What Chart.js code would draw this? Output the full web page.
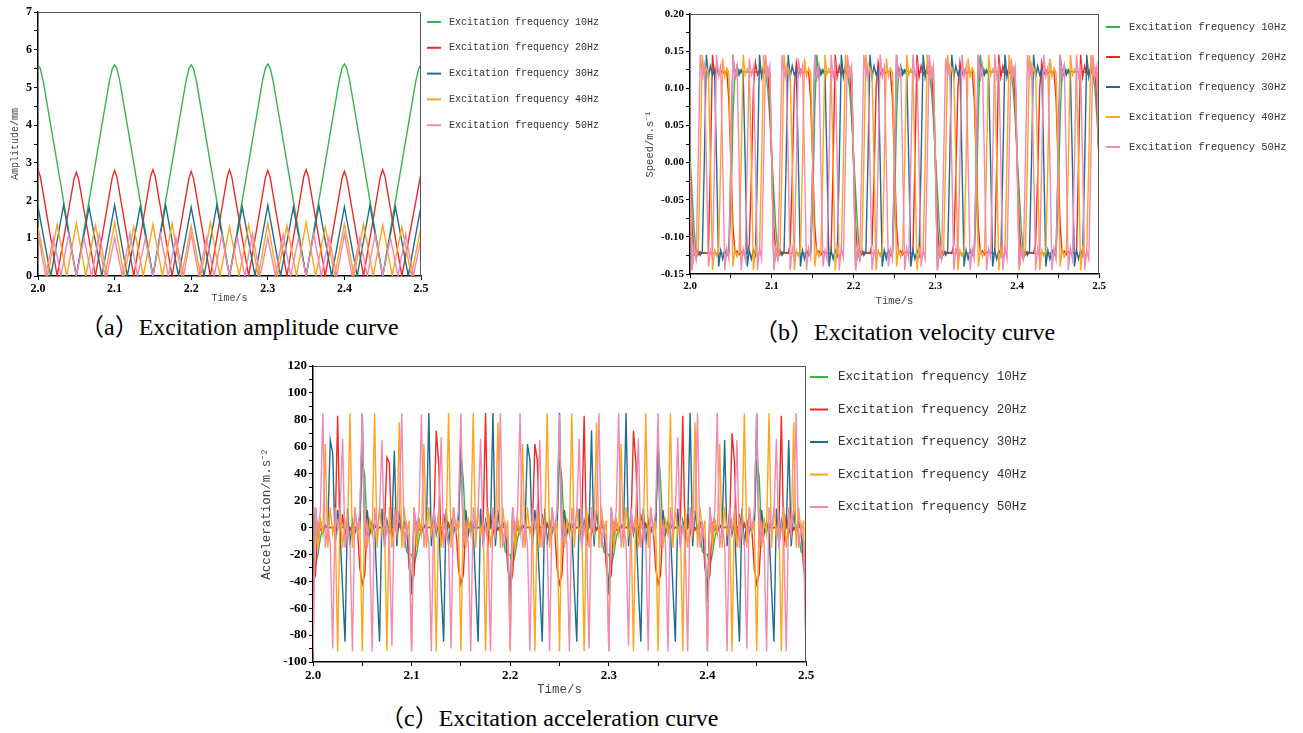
<!DOCTYPE html>
<html>
<head>
<meta charset="utf-8">
<script src="https://cdn.jsdelivr.net/npm/chart.js@4.4.0/dist/chart.umd.min.js"></script>
<style>
body { margin: 0; background: #fff; width: 1303px; height: 733px; overflow: hidden; position: relative; }
canvas { position: absolute; }
.cap { position: absolute; font-family: "Liberation Serif", "Noto Sans CJK SC", serif; font-size: 24px; line-height: 28px; color: #000; white-space: nowrap; }
</style>
</head>
<body>
<canvas id="chartAmp" width="640" height="310" style="left:0px;top:0px"></canvas>
<canvas id="chartVel" width="673" height="315" style="left:630px;top:0px"></canvas>
<canvas id="chartAcc" width="800" height="345" style="left:250px;top:355px"></canvas>
<div class="cap" style="left:80px;top:313px">（a）Excitation amplitude curve</div>
<div class="cap" style="left:754px;top:318px">（b）Excitation velocity curve</div>
<div class="cap" style="left:380px;top:704px">（c）Excitation acceleration curve</div>
<script>
const seriesNames = ['Excitation frequency 10Hz', 'Excitation frequency 20Hz', 'Excitation frequency 30Hz', 'Excitation frequency 40Hz', 'Excitation frequency 50Hz'];
const seriesColors = ['#38b54a', '#ee2a24', '#1f6b94', '#ffa41c', '#f189b3'];

// (a) amplitude, mm  -- [time, value] at peaks / zeros
const ampGreen = [
    [2.000, 5.60], [2.003, 5.50], [2.007, 5.15], [2.050, 0],
    [2.093, 5.15], [2.097, 5.50], [2.100, 5.60], [2.103, 5.50], [2.107, 5.15], [2.150, 0],
    [2.193, 5.15], [2.197, 5.50], [2.200, 5.60], [2.203, 5.50], [2.207, 5.15], [2.250, 0],
    [2.293, 5.17], [2.297, 5.52], [2.300, 5.62], [2.303, 5.52], [2.307, 5.17], [2.350, 0],
    [2.393, 5.17], [2.397, 5.52], [2.400, 5.62], [2.403, 5.52], [2.407, 5.17], [2.450, 0],
    [2.493, 5.15], [2.497, 5.50], [2.500, 5.60]
];
const ampRed = [
    [2.000, 2.82], [2.003, 2.64], [2.025, 0], [2.047, 2.57], [2.050, 2.75], [2.053, 2.57], [2.075, 0],
    [2.097, 2.62], [2.100, 2.80], [2.103, 2.62], [2.125, 0], [2.147, 2.64], [2.150, 2.82], [2.153, 2.64], [2.175, 0],
    [2.197, 2.59], [2.200, 2.77], [2.203, 2.59], [2.225, 0], [2.247, 2.63], [2.250, 2.81], [2.253, 2.63], [2.275, 0],
    [2.297, 2.62], [2.300, 2.80], [2.303, 2.62], [2.325, 0], [2.347, 2.64], [2.350, 2.82], [2.353, 2.64], [2.375, 0],
    [2.397, 2.60], [2.400, 2.78], [2.403, 2.60], [2.425, 0], [2.447, 2.64], [2.450, 2.82], [2.453, 2.64], [2.475, 0],
    [2.500, 2.72]
];
// peak, zero, peak ... every half period
const ampBlueStep = 1 / 60;
const ampBlue = [1.83, 0, 1.88, 0, 1.82, 0, 1.88, 0, 1.83, 0, 1.88, 0, 1.82, 0, 1.87, 0,
    1.83, 0, 1.88, 0, 1.82, 0, 1.87, 0, 1.83, 0, 1.88, 0, 1.83, 0, 1.85];
const ampOrangeStep = 0.0125;
const ampOrange = [1.30, 0, 1.37, 0, 1.40, 0, 1.35, 0, 1.42, 0, 1.30, 0, 1.37, 0, 1.40, 0, 1.33, 0, 1.42, 0,
    1.30, 0, 1.36, 0, 1.40, 0, 1.33, 0, 1.42, 0, 1.30, 0, 1.38, 0, 1.38, 0, 1.35, 0, 1.30, 0, 1.31];
const ampPinkStep = 0.01;
const ampPink = [1.14, 0, 1.02, 0, 1.10, 0, 1.00, 0, 1.12, 0, 1.02, 0, 1.12, 0, 1.00, 0, 1.10, 0, 1.02, 0,
    1.12, 0, 1.00, 0, 1.10, 0, 1.03, 0, 1.12, 0, 1.02, 0, 1.10, 0, 1.00, 0, 1.12, 0, 1.02, 0,
    1.12, 0, 1.00, 0, 1.10, 0, 1.02, 0, 1.12, 0, 1.00];

// (b) velocity, m/s  -- samples every 0.0025 s from 2.0 to 2.5
const sampleStep = 0.0025;
const velGreen = [
    .01,-.04,-.09,-.12,-.122,-.122,-.122,-.122,-.122,-.122,-.122,-.122,-.122,-.122,-.122,-.122,-.122,-.122,-.122,-.122,
    -.06,.06,.125,.116,.125,.12,.123,.122,.122,.122,.122,.122,.122,.122,.122,.122,.122,.12,.1,.06,
    .01,-.04,-.09,-.12,-.122,-.122,-.122,-.122,-.122,-.122,-.122,-.122,-.122,-.122,-.122,-.122,-.122,-.122,-.122,-.122,
    -.06,.07,.145,.115,.125,.12,.123,.122,.122,.122,.122,.122,.122,.122,.122,.122,.122,.12,.1,.06,
    .01,-.04,-.09,-.12,-.122,-.122,-.122,-.122,-.122,-.122,-.122,-.122,-.122,-.122,-.122,-.122,-.122,-.122,-.122,-.122,
    -.06,.06,.125,.116,.125,.12,.123,.122,.122,.122,.122,.122,.122,.122,.122,.122,.122,.12,.1,.06,
    .01,-.04,-.09,-.12,-.122,-.122,-.122,-.122,-.122,-.122,-.122,-.122,-.122,-.122,-.122,-.122,-.122,-.122,-.122,-.122,
    -.06,.07,.145,.115,.125,.12,.123,.122,.122,.122,.122,.122,.122,.122,.122,.122,.122,.12,.1,.06,
    .01,-.04,-.09,-.12,-.122,-.122,-.122,-.122,-.122,-.122,-.122,-.122,-.122,-.122,-.122,-.122,-.122,-.122,-.122,-.122,
    -.06,.06,.125,.116,.125,.12,.123,.122,.122,.122,.122,.122,.122,.122,.122,.122,.122,.12,.1,.06,
    .01
];
const velRed = [
    0,-.085,-.122,-.119,-.124,-.12,-.122,-.121,-.122,-.122,0,.145,.115,.13,.118,.124,.12,.122,.122,.085,
    0,-.085,-.122,-.119,-.124,-.12,-.122,-.121,-.122,-.11,-.02,.1,.135,.118,.125,.12,.122,.122,.122,.085,
    0,-.085,-.122,-.119,-.124,-.12,-.122,-.121,-.122,-.11,-.02,.1,.135,.118,.125,.12,.122,.122,.122,.085,
    0,-.085,-.122,-.119,-.124,-.12,-.122,-.121,-.122,-.122,0,.145,.115,.13,.118,.124,.12,.122,.122,.085,
    0,-.085,-.122,-.119,-.124,-.12,-.122,-.121,-.122,-.11,-.02,.1,.135,.118,.125,.12,.122,.122,.122,.085,
    0,-.085,-.122,-.119,-.124,-.12,-.122,-.121,-.122,-.122,0,.145,.115,.13,.118,.124,.12,.122,.122,.085,
    0,-.085,-.122,-.119,-.124,-.12,-.122,-.121,-.122,-.11,-.02,.1,.135,.118,.125,.12,.122,.122,.122,.085,
    0,-.085,-.122,-.119,-.124,-.12,-.122,-.121,-.122,-.122,0,.145,.115,.13,.118,.124,.12,.122,.122,.085,
    0,-.085,-.122,-.119,-.124,-.12,-.122,-.121,-.122,-.11,-.02,.1,.135,.118,.125,.12,.122,.122,.122,.085,
    0,-.085,-.122,-.119,-.124,-.12,-.122,-.121,-.122,-.122,0,.145,.115,.13,.118,.124,.12,.122,.122,.085,
    0
];
const velBlue = [
    0,-.14,-.118,-.13,-.118,-.125,-.12,0,.145,.115,.13,.118,.125,0,-.14,-.118,-.13,-.118,-.125,-.12,
    0,.145,.115,.13,.118,.125,.12,0,-.14,-.118,-.13,-.118,-.125,0,.145,.115,.13,.118,.125,.12,
    0,-.14,-.118,-.13,-.118,-.125,-.12,0,.145,.115,.13,.118,.125,0,-.14,-.118,-.13,-.118,-.125,-.12,
    0,.145,.115,.13,.118,.125,.12,0,-.14,-.118,-.13,-.118,-.125,0,.145,.115,.13,.118,.125,.12,
    0,-.14,-.118,-.13,-.118,-.125,-.12,0,.145,.115,.13,.118,.125,0,-.14,-.118,-.13,-.118,-.125,-.12,
    0,.145,.115,.13,.118,.125,.12,0,-.14,-.118,-.13,-.118,-.125,0,.145,.115,.13,.118,.125,.12,
    0,-.14,-.118,-.13,-.118,-.125,-.12,0,.145,.115,.13,.118,.125,0,-.14,-.118,-.13,-.118,-.125,-.12,
    0,.145,.115,.13,.118,.125,.12,0,-.14,-.118,-.13,-.118,-.125,0,.145,.115,.13,.118,.125,.12,
    0,-.14,-.118,-.13,-.118,-.125,-.12,0,.145,.115,.13,.118,.125,0,-.14,-.118,-.13,-.118,-.125,-.12,
    0,.145,.115,.13,.118,.125,.12,0,-.14,-.118,-.13,-.118,-.125,0,.145,.115,.13,.118,.125,.12,
    0
];
const velOrange = [
    0,-.145,-.115,-.128,-.12,0,.145,.115,.128,.12,0,-.145,-.118,-.126,-.121,0,.14,.116,.127,.121,
    0,-.14,-.116,-.127,-.121,0,.145,.118,.126,.12,0,-.145,-.115,-.128,-.12,0,.145,.115,.128,.12,
    0,-.145,-.115,-.128,-.12,0,.145,.115,.128,.12,0,-.145,-.118,-.126,-.121,0,.14,.116,.127,.121,
    0,-.14,-.116,-.127,-.121,0,.145,.118,.126,.12,0,-.145,-.115,-.128,-.12,0,.145,.115,.128,.12,
    0,-.145,-.115,-.128,-.12,0,.145,.115,.128,.12,0,-.145,-.118,-.126,-.121,0,.14,.116,.127,.121,
    0,-.14,-.116,-.127,-.121,0,.145,.118,.126,.12,0,-.145,-.115,-.128,-.12,0,.145,.115,.128,.12,
    0,-.145,-.115,-.128,-.12,0,.145,.115,.128,.12,0,-.145,-.118,-.126,-.121,0,.14,.116,.127,.121,
    0,-.14,-.116,-.127,-.121,0,.145,.118,.126,.12,0,-.145,-.115,-.128,-.12,0,.145,.115,.128,.12,
    0,-.145,-.115,-.128,-.12,0,.145,.115,.128,.12,0,-.145,-.118,-.126,-.121,0,.14,.116,.127,.121,
    0,-.14,-.116,-.127,-.121,0,.145,.118,.126,.12,0,-.145,-.115,-.128,-.12,0,.145,.115,.128,.12,
    0
];
const velPink = [
    0,-.145,-.115,-.13,0,.145,.115,.13,0,-.14,-.118,-.128,0,.145,.116,.13,0,-.145,-.115,-.13,
    0,.145,.115,.13,0,-.145,-.116,-.13,0,.14,.118,.128,0,-.145,-.115,-.13,0,.145,.115,.13,
    0,-.145,-.116,-.13,0,.145,.115,.128,0,-.145,-.115,-.13,0,.14,.118,.13,0,-.145,-.115,-.128,
    0,.145,.116,.13,0,-.14,-.118,-.13,0,.145,.115,.13,0,-.145,-.115,-.128,0,.145,.115,.13,
    0,-.145,-.115,-.13,0,.145,.116,.13,0,-.145,-.118,-.13,0,.145,.115,.128,0,-.14,-.116,-.13,
    0,.145,.115,.128,0,-.145,-.115,-.13,0,.145,.116,.13,0,-.14,-.118,-.13,0,.145,.115,.13,
    0,-.145,-.115,-.13,0,.14,.118,.13,0,-.145,-.115,-.128,0,.145,.115,.13,0,-.145,-.116,-.13,
    0,.145,.115,.13,0,-.145,-.116,-.128,0,.145,.115,.13,0,-.145,-.115,-.13,0,.14,.118,.13,
    0,-.14,-.118,-.13,0,.145,.115,.13,0,-.145,-.115,-.13,0,.145,.116,.128,0,-.145,-.115,-.13,
    0,.145,.116,.13,0,-.145,-.115,-.13,0,.145,.115,.128,0,-.145,-.118,-.13,0,.145,.115,.13,
    0
];

// (c) acceleration, m/s^2  -- same sampling
const accGreen = [
    -20,-28,-20,-8,0,0,0,0,0,0,0,0,0,0,0,0,0,0,0,0,
    50,38,-5,5,-4,3,-2,0,0,0,0,0,0,0,0,0,0,-5,-18,-20,
    -20,-28,-20,-8,0,0,0,0,0,0,0,0,0,0,0,0,0,0,0,0,
    55,35,-5,5,-4,3,-2,0,0,0,0,0,0,0,0,0,0,-5,-18,-20,
    -20,-28,-20,-8,0,0,0,0,0,0,0,0,0,0,0,0,0,0,0,0,
    50,35,-5,5,-4,3,-2,0,0,0,0,0,0,0,0,0,0,-5,-18,-20,
    -20,-28,-20,-8,0,0,0,0,0,0,0,0,0,0,0,0,0,0,0,0,
    62,35,-5,5,-4,3,-2,0,0,0,0,0,0,0,0,0,0,-5,-18,-20,
    -20,-28,-20,-8,0,0,0,0,0,0,0,0,0,0,0,0,0,0,0,0,
    50,38,-5,5,-4,3,-2,0,0,0,0,0,0,0,0,0,0,-5,-18,-20,
    -20
];
const accRed = [
    -42,-35,3,-2,0,0,0,0,0,0,83,-14,10,-5,3,-2,1,0,0,-30,
    -42,-35,3,-2,0,0,0,0,0,0,52,48,-14,10,-5,3,-2,0,0,-30,
    -42,-35,3,-2,0,0,0,0,0,0,72,47,-14,10,-5,3,-2,0,0,-30,
    -42,-35,3,-2,0,0,0,0,0,0,85,-14,10,-5,3,-2,1,0,0,-30,
    -42,-35,3,-2,0,0,0,0,0,0,62,50,-14,10,-5,3,-2,0,0,-30,
    -42,-35,3,-2,0,0,0,0,0,0,83,-14,10,-5,3,-2,1,0,0,-30,
    -42,-35,3,-2,0,0,0,0,0,0,72,48,-14,10,-5,3,-2,0,0,-30,
    -42,-35,3,-2,0,0,0,0,0,0,83,-14,10,-5,3,-2,1,0,0,-30,
    -42,-35,3,-2,0,0,0,0,0,0,70,48,-14,10,-5,3,-2,0,0,-30,
    -42,-35,3,-2,0,0,0,0,0,0,83,-14,10,-5,3,-2,1,0,0,-30,
    -42
];
const accBlue = [
    -50,14,-13,5,-4,2,0,65,55,-14,13,-5,-45,-85,14,-13,5,-4,2,0,
    85,-14,13,-5,4,-2,-45,-85,14,-13,5,-4,0,57,-14,13,-5,4,-2,-20,
    -50,14,-13,5,-4,2,0,85,-14,13,-5,3,-45,-85,14,-13,5,-4,2,0,
    70,-14,13,-5,4,-2,-45,-85,14,-13,5,-4,0,85,-14,13,-5,4,-2,-20,
    -55,14,-13,5,-4,2,0,62,50,-14,13,-5,-45,-85,14,-13,5,-4,2,0,
    85,-14,13,-5,4,-2,-45,-85,14,-13,5,-4,0,72,-14,13,-5,4,-2,-20,
    -50,14,-13,5,-4,2,0,85,-14,13,-5,3,-45,-85,14,-13,5,-4,2,0,
    65,-14,13,-5,4,-2,-45,-85,14,-13,5,-4,0,85,-14,13,-5,4,-2,-20,
    -55,14,-13,5,-4,2,0,65,-14,13,-5,3,-45,-85,14,-13,5,-4,2,0,
    85,-14,13,-5,4,-2,-45,-85,14,-13,5,-4,0,65,-14,13,-5,4,-2,-20,
    -50
];
const accOrange = [
    -92,15,-15,5,-5,62,-15,15,-5,5,-92,15,-15,5,-5,85,-15,15,-5,5,
    -92,15,-15,5,-5,85,-15,15,-5,5,-92,15,-15,5,-5,78,-15,15,-5,5,
    -92,15,-15,5,-5,62,-15,15,-5,5,-92,15,-15,5,-5,85,-15,15,-5,5,
    -92,15,-15,5,-5,85,-15,15,-5,5,-92,15,-15,5,-5,78,-15,15,-5,5,
    -92,15,-15,5,-5,62,-15,15,-5,5,-92,15,-15,5,-5,85,-15,15,-5,5,
    -92,15,-15,5,-5,85,-15,15,-5,5,-92,15,-15,5,-5,78,-15,15,-5,5,
    -92,15,-15,5,-5,62,-15,15,-5,5,-92,15,-15,5,-5,85,-15,15,-5,5,
    -92,15,-15,5,-5,85,-15,15,-5,5,-92,15,-15,5,-5,78,-15,15,-5,5,
    -92,15,-15,5,-5,62,-15,15,-5,5,-92,15,-15,5,-5,85,-15,15,-5,5,
    -92,15,-15,5,-5,85,-15,15,-5,5,-92,15,-15,5,-5,78,-15,15,-5,5,
    -92
];
const accPink = [
    -92,15,-2,12,85,-15,2,-12,-90,15,-2,12,66,-15,2,-12,-92,15,-2,12,
    85,-15,2,-12,-92,15,-2,12,65,-15,2,-12,-88,15,-2,12,85,-15,2,-12,
    -92,15,-2,12,84,-15,2,-12,-92,15,-2,12,67,-15,2,-12,-90,15,-2,12,
    85,-15,2,-12,-92,15,-2,12,66,-15,2,-12,-92,15,-2,12,85,-15,2,-12,
    -90,15,-2,12,85,-15,2,-12,-92,15,-2,12,65,-15,2,-12,-92,15,-2,12,
    84,-15,2,-12,-92,15,-2,12,66,-15,2,-12,-90,15,-2,12,85,-15,2,-12,
    -92,15,-2,12,85,-15,2,-12,-88,15,-2,12,66,-15,2,-12,-92,15,-2,12,
    85,-15,2,-12,-92,15,-2,12,67,-15,2,-12,-92,15,-2,12,85,-15,2,-12,
    -92,15,-2,12,85,-15,2,-12,-92,15,-2,12,65,-15,2,-12,-90,15,-2,12,
    85,-15,2,-12,-92,15,-2,12,66,-15,2,-12,-92,15,-2,12,85,-15,2,-12,
    -90
];

function pairPoints(pairs) {
    return pairs.map(p => ({ x: p[0], y: p[1] }));
}
function stepPoints(values, step) {
    return values.map((v, i) => ({ x: 2 + i * step, y: v }));
}

// chart area frame (top and right sides)
const frame = {
    id: 'frame',
    afterDatasetsDraw(chart) {
        const { ctx, chartArea: a } = chart;
        ctx.save();
        ctx.strokeStyle = '#555';
        ctx.lineWidth = 1;
        ctx.beginPath();
        ctx.moveTo(a.left, a.top + 0.5);
        ctx.lineTo(a.right - 0.5, a.top + 0.5);
        ctx.lineTo(a.right - 0.5, a.bottom);
        ctx.stroke();
        ctx.restore();
    }
};

// legend drawn to the right of the plot
const sideLegend = {
    id: 'sideLegend',
    afterDraw(chart, args, opts) {
        const { ctx, chartArea } = chart;
        ctx.save();
        ctx.font = opts.font;
        ctx.textBaseline = 'middle';
        chart.data.datasets.forEach((ds, i) => {
            const x = chartArea.right + opts.left;
            const y = chartArea.top + opts.top + i * opts.gap;
            ctx.strokeStyle = ds.borderColor;
            ctx.lineWidth = 2;
            ctx.beginPath();
            ctx.moveTo(x, y);
            ctx.lineTo(x + opts.len, y);
            ctx.stroke();
            ctx.fillStyle = '#333';
            ctx.fillText(ds.label, x + opts.text, y);
        });
        ctx.restore();
    }
};

function makeChart(canvasId, series, cfg) {
    const tickFont = { family: 'Liberation Serif', weight: 'bold', size: cfg.tickSize };
    const titleFont = { family: 'Liberation Mono', size: cfg.titleSize };
    return new Chart(document.getElementById(canvasId), {
        type: 'line',
        data: {
            datasets: series.map((pts, i) => ({
                label: seriesNames[i],
                data: pts,
                borderColor: seriesColors[i],
                borderWidth: 1.4,
                pointRadius: 0,
                tension: 0,
                order: 5 - i
            }))
        },
        options: {
            responsive: false,
            animation: false,
            devicePixelRatio: 1,
            layout: { padding: { left: 0, top: cfg.top, right: cfg.right, bottom: 0 } },
            plugins: {
                legend: { display: false },
                tooltip: { enabled: false },
                sideLegend: cfg.legend
            },
            scales: {
                x: {
                    type: 'linear',
                    min: 2,
                    max: 2.5,
                    afterFit: s => { s.height = cfg.xh; },
                    border: { display: true, color: '#000', width: 1.5 },
                    grid: { drawOnChartArea: false, drawTicks: true, tickLength: 4, color: '#000' },
                    ticks: {
                        stepSize: cfg.xStep,
                        autoSkip: false,
                        maxRotation: 0,
                        padding: 2,
                        color: '#000',
                        font: tickFont,
                        callback: v => Math.round(v * 100) % 10 === 0 ? v.toFixed(1) : ''
                    },
                    title: { display: true, text: 'Time/s', color: '#444', font: titleFont, padding: { top: 0, bottom: cfg.xTitlePad } }
                },
                y: {
                    type: 'linear',
                    min: cfg.yMin,
                    max: cfg.yMax,
                    afterFit: s => { s.width = cfg.yw; },
                    border: { display: true, color: '#000', width: 1.5 },
                    grid: { drawOnChartArea: false, drawTicks: true, tickLength: 4, color: '#000' },
                    ticks: {
                        stepSize: cfg.yStep,
                        autoSkip: false,
                        padding: 2,
                        color: '#000',
                        font: tickFont,
                        callback: cfg.yLabel
                    },
                    title: { display: true, text: cfg.yTitle, color: '#444', font: titleFont, padding: { top: cfg.yTitlePad, bottom: 0 } }
                }
            }
        },
        plugins: [frame, sideLegend]
    });
}

var chartAmp = makeChart('chartAmp', [
    pairPoints(ampGreen),
    pairPoints(ampRed),
    stepPoints(ampBlue, ampBlueStep),
    stepPoints(ampOrange, ampOrangeStep),
    stepPoints(ampPink, ampPinkStep)
], {
    top: 12, right: 219, xh: 34, yw: 38,
    yMin: 0, yMax: 7, yStep: 0.5, xStep: 0.1,
    yLabel: v => Math.abs(v - Math.round(v)) < 1e-6 ? Math.round(v) : '',
    yTitle: 'Amplitude/mm',
    tickSize: 12, titleSize: 10, yTitlePad: 9, xTitlePad: 6,
    legend: { left: 6, len: 14, text: 22, top: 10, gap: 25.8, font: '10px "Liberation Mono"' }
});

var chartVel = makeChart('chartVel', [
    stepPoints(velGreen, sampleStep),
    stepPoints(velRed, sampleStep),
    stepPoints(velBlue, sampleStep),
    stepPoints(velOrange, sampleStep),
    stepPoints(velPink, sampleStep)
], {
    top: 14, right: 204, xh: 41, yw: 60,
    yMin: -0.15, yMax: 0.2, yStep: 0.025, xStep: 0.05,
    yLabel: v => Math.round(v * 1000) % 50 === 0 ? v.toFixed(2) : '',
    yTitle: 'Speed/m.s⁻¹',
    tickSize: 11, titleSize: 10.5, yTitlePad: 13.7, xTitlePad: 7.7,
    legend: { left: 7, len: 14, text: 23, top: 13, gap: 30, font: '10.5px "Liberation Mono"' }
});

var chartAcc = makeChart('chartAcc', [
    stepPoints(accGreen, sampleStep),
    stepPoints(accRed, sampleStep),
    stepPoints(accBlue, sampleStep),
    stepPoints(accOrange, sampleStep),
    stepPoints(accPink, sampleStep)
], {
    top: 11, right: 244, xh: 38, yw: 63,
    yMin: -100, yMax: 120, yStep: 10, xStep: 0.05,
    yLabel: v => Math.round(v) % 20 === 0 ? Math.round(v) : '',
    yTitle: 'Acceleration/m.s⁻²',
    tickSize: 13, titleSize: 12.5, yTitlePad: 9.5, xTitlePad: 2.5,
    legend: { left: 4, len: 18, text: 28, top: 11, gap: 32.5, font: '12.6px "Liberation Mono"' }
});
</script>
</body>
</html>
